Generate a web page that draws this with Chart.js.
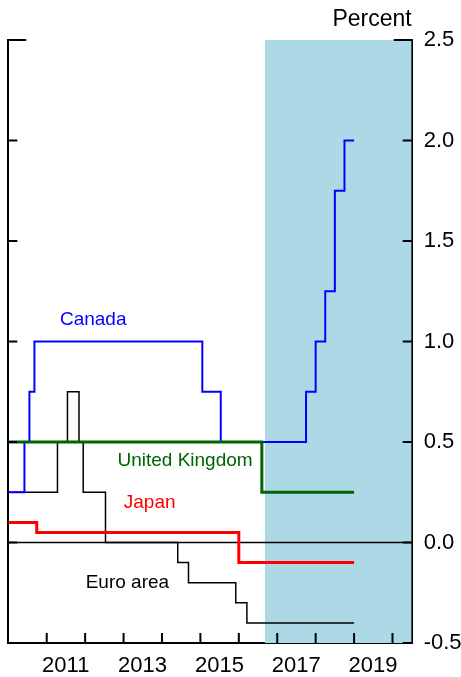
<!DOCTYPE html>
<html>
<head>
<meta charset="utf-8">
<script src="https://cdn.jsdelivr.net/npm/chart.js@4.4.0/dist/chart.umd.min.js"></script>
<style>
  html, body { margin: 0; padding: 0; background: #fff; }
  #wrap { width: 461px; height: 677px; position: relative; }
</style>
</head>
<body>
<div id="wrap"><canvas id="rates"></canvas></div>
<script>
// step series as change points: the value holds until the next year listed
const canadaYears = [2010.0, 2010.42, 2010.55, 2010.68, 2015.05, 2015.53, 2017.75, 2018.0, 2018.25, 2018.5, 2018.75, 2019.0];
const canadaRates = [0.25, 0.5, 0.75, 1.0, 0.75, 0.5, 0.75, 1.0, 1.25, 1.75, 2.0, 2.0];

const ukYears = [2010.0, 2016.6, 2019.0];
const ukRates = [0.5, 0.25, 0.25];

const japanYears = [2010.0, 2010.74, 2016.0, 2019.0];
const japanRates = [0.1, 0.05, -0.1, -0.1];

const euroYears = [2010.0, 2011.28, 2011.54, 2011.84, 2011.95, 2012.53, 2014.41, 2014.69, 2015.92, 2016.21, 2019.0];
const euroRates = [0.25, 0.5, 0.75, 0.5, 0.25, 0.0, -0.1, -0.2, -0.3, -0.4, -0.4];

const zeroYears = [2010.0, 2020.5];
const zeroRates = [0, 0];

// shaded projection period
const shadeYears = [2016.68, 2020.5];
const shadeTop = [2.5, 2.5];

const yearTicks = [2010, 2011, 2012, 2013, 2014, 2015, 2016, 2017, 2018, 2019, 2020];
const yearLabels = ['', '2011', '', '2013', '', '2015', '', '2017', '', '2019', ''];
const percentTicks = [-0.5, 0.0, 0.5, 1.0, 1.5, 2.0, 2.5];

const toPoints = (xs, ys) => xs.map((x, i) => ({ x: x, y: ys[i] }));

const FONT = '"Liberation Sans", Arial, Helvetica, sans-serif';

// series names written inside the plot
const seriesNames = [
    { text: 'Canada', x: 2012.21, y: 1.106, color: '#0000ff' },
    { text: 'United Kingdom', x: 2014.60, y: 0.405, color: '#006400' },
    { text: 'Japan', x: 2013.68, y: 0.20, color: '#ff0000' },
    { text: 'Euro area', x: 2013.10, y: -0.198, color: '#000000' }
];

const innerTicks = {
    id: 'innerTicks',
    afterDatasetsDraw(chart) {
        const { ctx, chartArea: a, scales } = chart;
        const x = scales.x, y = scales.y;
        ctx.save();
        ctx.strokeStyle = '#000';
        ctx.lineWidth = 2;
        ctx.beginPath();
        percentTicks.forEach(v => {
            const py = y.getPixelForValue(v);
            const len = v === 2.5 ? 18 : 9;
            ctx.moveTo(a.left, py);
            ctx.lineTo(a.left + len, py);
            ctx.moveTo(a.right, py);
            ctx.lineTo(a.right - len, py);
        });
        yearTicks.slice(1).forEach(v => {
            const px = x.getPixelForValue(v);
            ctx.moveTo(px, a.bottom);
            ctx.lineTo(px, a.bottom - 10);
        });
        ctx.stroke();

        ctx.font = '19px ' + FONT;
        ctx.textAlign = 'center';
        ctx.textBaseline = 'middle';
        seriesNames.forEach(s => {
            ctx.fillStyle = s.color;
            ctx.fillText(s.text, x.getPixelForValue(s.x), y.getPixelForValue(s.y));
        });
        ctx.restore();
    }
};

const ctx = document.getElementById('rates').getContext('2d');
new Chart(ctx, {
    type: 'line',
    data: {
        datasets: [
            {
                label: 'United Kingdom',
                data: toPoints(ukYears, ukRates),
                borderColor: '#006400',
                borderWidth: 3,
                stepped: true,
                order: 1
            },
            {
                label: 'Canada',
                data: toPoints(canadaYears, canadaRates),
                borderColor: '#0000ff',
                borderWidth: 2,
                stepped: true,
                order: 2
            },
            {
                label: 'Japan',
                data: toPoints(japanYears, japanRates),
                borderColor: '#ff0000',
                borderWidth: 3,
                stepped: true,
                order: 3
            },
            {
                label: 'Euro area',
                data: toPoints(euroYears, euroRates),
                borderColor: '#000000',
                borderWidth: 1.5,
                stepped: true,
                order: 4
            },
            {
                label: 'zero',
                data: toPoints(zeroYears, zeroRates),
                borderColor: '#000000',
                borderWidth: 1.5,
                order: 5
            },
            {
                label: 'shade',
                data: toPoints(shadeYears, shadeTop),
                borderWidth: 0,
                borderColor: 'rgba(0,0,0,0)',
                backgroundColor: '#add8e6',
                fill: { value: -0.5 },
                order: 10
            }
        ]
    },
    options: {
        responsive: true,
        maintainAspectRatio: false,
        animation: false,
        elements: { point: { radius: 0 }, line: { tension: 0 } },
        layout: { padding: 0 },
        plugins: {
            legend: { display: false },
            tooltip: { enabled: false },
            title: {
                display: true,
                text: 'Percent',
                align: 'end',
                fullSize: false,
                color: '#000',
                font: { family: FONT, size: 23, weight: 'normal', lineHeight: 1.2 },
                padding: { top: 6.2, bottom: 6.2 }
            }
        },
        scales: {
            x: {
                type: 'linear',
                min: 2010,
                max: 2020.5,
                z: 1,
                afterBuildTicks: scale => { scale.ticks = yearTicks.map(v => ({ value: v })); },
                afterFit: scale => {
                    scale.height = 34;
                    scale.paddingLeft = 0;
                    scale.paddingRight = 0;
                },
                ticks: {
                    autoSkip: false,
                    maxRotation: 0,
                    padding: 10,
                    labelOffset: 19,
                    color: '#000',
                    font: { family: FONT, size: 22 },
                    callback: (v, i) => yearLabels[i]
                },
                grid: { drawOnChartArea: false, drawTicks: false },
                border: { color: '#000', width: 2 }
            },
            y: {
                type: 'linear',
                position: 'right',
                min: -0.5,
                max: 2.5,
                z: 1,
                afterBuildTicks: scale => { scale.ticks = percentTicks.map(v => ({ value: v })); },
                afterFit: scale => { scale.width = 49.3; },
                ticks: {
                    padding: 12,
                    color: '#000',
                    font: { family: FONT, size: 22 },
                    callback: v => v.toFixed(1)
                },
                grid: { drawOnChartArea: false, drawTicks: false },
                border: { color: '#000', width: 2 }
            },
            yLeft: {
                type: 'linear',
                position: 'left',
                min: -0.5,
                max: 2.5,
                z: 1,
                afterFit: scale => { scale.width = 8.3; },
                ticks: { display: false },
                grid: { drawOnChartArea: false, drawTicks: false },
                border: { color: '#000', width: 2 }
            }
        }
    },
    plugins: [innerTicks]
});
</script>
</body>
</html>
